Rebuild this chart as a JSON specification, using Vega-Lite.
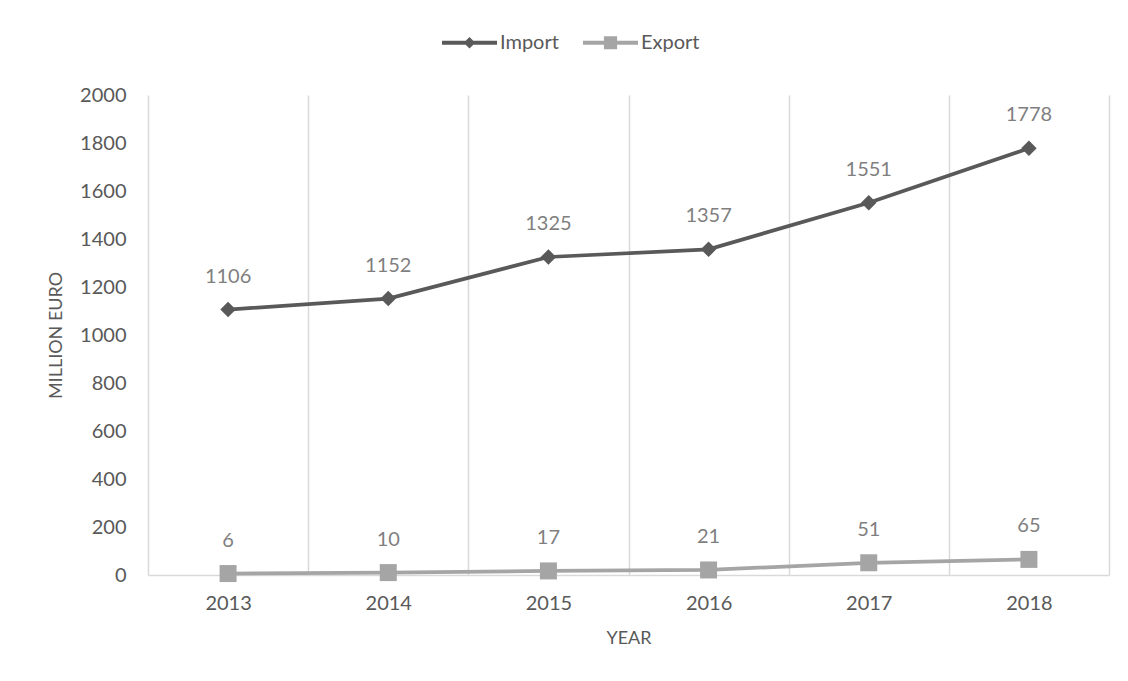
{
  "$schema": "https://vega.github.io/schema/vega-lite/v6.json",
  "width": 961,
  "height": 480,
  "autosize": "none",
  "padding": {"left": 148, "top": 95, "right": 19, "bottom": 106},
  "background": "white",
  "data": {
    "values": [
      {"year": "2013", "type": "Import", "value": 1106},
      {"year": "2014", "type": "Import", "value": 1152},
      {"year": "2015", "type": "Import", "value": 1325},
      {"year": "2016", "type": "Import", "value": 1357},
      {"year": "2017", "type": "Import", "value": 1551},
      {"year": "2018", "type": "Import", "value": 1778},
      {"year": "2013", "type": "Export", "value": 6},
      {"year": "2014", "type": "Export", "value": 10},
      {"year": "2015", "type": "Export", "value": 17},
      {"year": "2016", "type": "Export", "value": 21},
      {"year": "2017", "type": "Export", "value": 51},
      {"year": "2018", "type": "Export", "value": 65}
    ]
  },
  "encoding": {
    "x": {
      "field": "year",
      "type": "ordinal",
      "title": "YEAR",
      "scale": {"type": "band", "paddingInner": 0, "paddingOuter": 0},
      "axis": {
        "labelAngle": 0,
        "ticks": false,
        "tickBand": "extent",
        "grid": true,
        "gridColor": "#D9D9D9",
        "gridWidth": 1.5,
        "domain": true,
        "domainColor": "#D9D9D9",
        "domainWidth": 1.5,
        "labelPadding": 18,
        "titlePadding": 16
      }
    },
    "y": {
      "field": "value",
      "type": "quantitative",
      "title": "MILLION EURO",
      "scale": {"domain": [0, 2000], "nice": false},
      "axis": {
        "values": [0, 200, 400, 600, 800, 1000, 1200, 1400, 1600, 1800, 2000],
        "format": "d",
        "grid": false,
        "ticks": false,
        "domain": false,
        "labelPadding": 22,
        "titlePadding": 14
      }
    },
    "color": {
      "field": "type",
      "type": "nominal",
      "scale": {"domain": ["Import", "Export"], "range": ["#595959", "#A5A5A5"]},
      "legend": {
        "title": null,
        "orient": "none",
        "direction": "horizontal",
        "legendX": 294,
        "legendY": -80,
        "padding": 0,
        "symbolSize": 3025,
        "labelOffset": 3,
        "columnPadding": 24,
        "labelFont": "Lato",
        "labelFontSize": 20,
        "labelColor": "#595959",
        "encode": {
          "symbols": {
            "update": {
              "shape": {"signal": "datum.value === 'Import' ? 'M-1,-0.075H1V0.075H-1Z M0,-0.21L0.21,0L0,0.21L-0.21,0Z' : 'M-1,-0.075H1V0.075H-1Z M-0.24,-0.24H0.24V0.24H-0.24Z'"},
              "size": {"value": 3025},
              "fill": {"signal": "datum.value === 'Import' ? '#595959' : '#A5A5A5'"},
              "stroke": {"value": "transparent"},
              "strokeWidth": {"value": 0},
              "opacity": {"value": 1}
            }
          }
        }
      }
    }
  },
  "layer": [
    {
      "mark": {"type": "line", "strokeWidth": 3.75}
    },
    {
      "transform": [{"filter": "datum.type === 'Import'"}],
      "mark": {"type": "point", "filled": true, "opacity": 1, "shape": "diamond", "size": 240}
    },
    {
      "transform": [{"filter": "datum.type === 'Export'"}],
      "mark": {"type": "point", "filled": true, "opacity": 1, "shape": "square", "size": 289}
    },
    {
      "mark": {"type": "text", "dy": -33, "baseline": "middle", "font": "Lato", "fontSize": 20},
      "encoding": {
        "text": {"field": "value", "type": "quantitative"},
        "color": {"value": "#7F7F7F"}
      }
    }
  ],
  "config": {
    "view": {"stroke": null},
    "axis": {
      "labelFont": "Lato",
      "labelFontSize": 20,
      "labelColor": "#595959",
      "titleFont": "Lato",
      "titleFontSize": 18,
      "titleFontWeight": "normal",
      "titleColor": "#595959"
    }
  }
}
